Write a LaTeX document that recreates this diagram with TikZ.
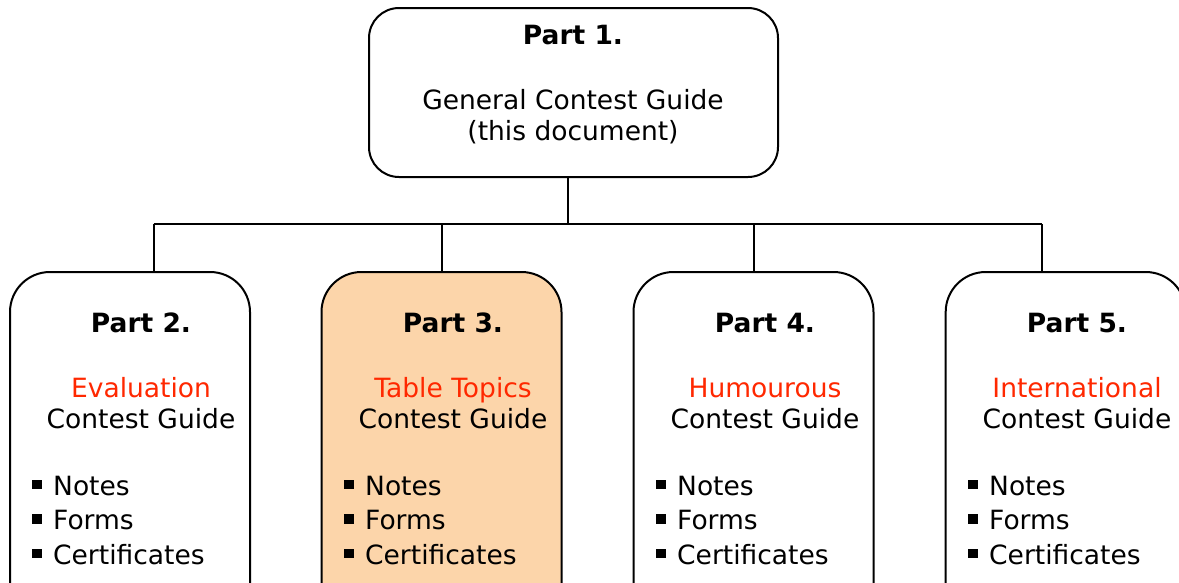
\documentclass[tikz,border=0pt]{standalone}
\usepackage{fontspec}
\setmainfont{DejaVu Sans}
\definecolor{redtxt}{RGB}{255,40,0}
\definecolor{peach}{RGB}{252,213,170}
\newcommand\sqbul{\raisebox{6pt}{\rule{9.5pt}{9.5pt}}}
\begin{document}
\begin{tikzpicture}[x=1pt,y=-1pt,
  box/.style={draw, line width=2pt, rounded corners=40pt, minimum width=240pt, minimum height=360pt, inner sep=0pt},
  topbox/.style={draw, line width=2pt, rounded corners=30pt, minimum width=409pt, minimum height=169pt, inner sep=0pt},
  conn/.style={line width=2pt},
  ttl/.style={font=\fontsize{26.5}{31}\selectfont\bfseries, anchor=base, inner sep=0pt},
  mid/.style={font=\fontsize{26.5}{31}\selectfont, anchor=base, inner sep=0pt},
  itm/.style={font=\fontsize{26.5}{31}\selectfont, anchor=base west, inner sep=0pt}]
\useasboundingbox (0,0) rectangle (1179,582);
\clip (0,0) rectangle (1179,582);
\fill[white] (0,0) rectangle (1179,582);
% top box
\node[topbox] (p1) at (573.5,92.5) {};
\node[ttl] (p1t) at (573,44) {Part 1.};
\node[mid] (p1a) at (573,109) {General Contest Guide};
\node[mid] (p1b) at (573,140) {(this document)};
% bottom boxes
\node[box] (p2) at (130,452) {};
\node[box, fill=peach] (p3) at (441.5,452) {};
\node[box] (p4) at (753.5,452) {};
\node[box] (p5) at (1065.7,452) {};
\foreach \n/\c/\w in {2/141/Evaluation, 3/453/Table Topics, 4/765/Humourous, 5/1077/International}{
  \node[ttl] (t\n) at (\c,332) {Part \n.};
  \node[mid, text=redtxt] (r\n) at (\c,397) {\w};
  \node[mid] (g\n) at (\c,428) {Contest Guide};
  \node[itm] (n\n) at (\c-109,495) {\sqbul\hspace{11.5pt}Notes};
  \node[itm] (f\n) at (\c-109,529.5) {\sqbul\hspace{11.5pt}Forms};
  \node[itm] (c\n) at (\c-109,564) {\sqbul\hspace{11.5pt}Certificates};
}
% connectors
\coordinate (j) at (567.5,224);
\coordinate (b2) at (153.5,224);
\coordinate (b3) at (441.5,224);
\coordinate (b4) at (753.5,224);
\coordinate (b5) at (1041.5,224);
\draw[conn] (p1.south -| j) -- (j);
\draw[conn] (b2) -- (b5);
\draw[conn] (b2) -- (b2 |- p2.north);
\draw[conn] (b3) -- (b3 |- p3.north);
\draw[conn] (b4) -- (b4 |- p4.north);
\draw[conn] (b5) -- (b5 |- p5.north);
\end{tikzpicture}
\end{document}
